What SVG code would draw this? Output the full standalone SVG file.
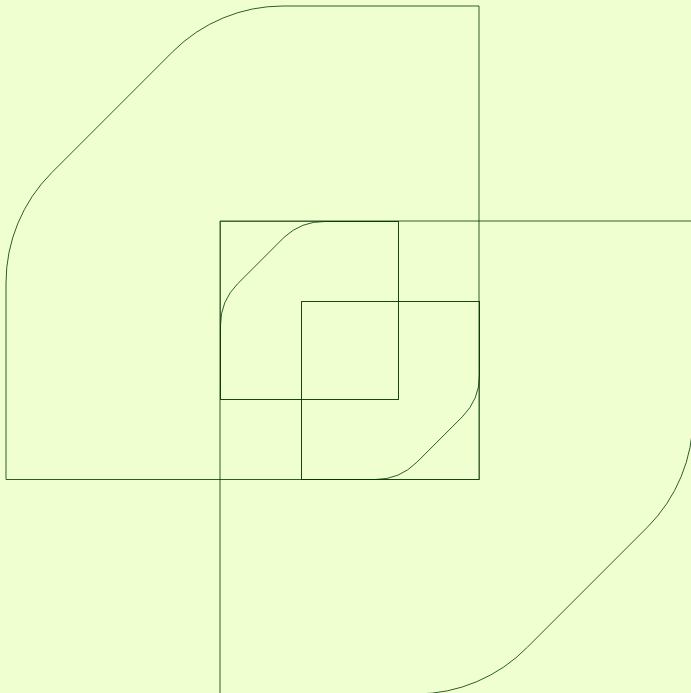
<svg xmlns="http://www.w3.org/2000/svg" width="691" height="693" viewBox="0 0 691 693">
<style>
.s{fill:none;stroke:#003300;stroke-width:1;stroke-opacity:0.8}
.q{fill:none;stroke:#003300;stroke-width:1;stroke-opacity:0.55}
</style>
<rect width="691" height="693" fill="#f0ffd0"/>
<g id="big-shape"><path class="s" d="M6 479.5 L479 479.5 L479 6 L283 6 A156 156 0 0 0 172.7 51.7 L51.7 172.7 A156 156 0 0 0 6 283 Z"/></g>
<g id="lower-shape"><path class="s" d="M220 694 L220 221 L693 221 L693 417 A156 156 0 0 1 647.3 527.3 L527.3 647.3 A156 156 0 0 1 417 694 Z"/></g>
<g id="square-a"><rect class="q" x="220.5" y="221.5" width="178" height="178"/></g>
<g id="shape-a"><path class="s" d="M220.5 399.5 L220.5 325.2 A58.7 58.7 0 0 1 237.7 283.7 L284.2 237.2 A58.7 58.7 0 0 1 324.7 221.5 L398.5 221.5 L398.5 399.5 Z"/></g>
<g id="square-b"><rect class="q" x="301.5" y="301.5" width="178" height="178"/></g>
<g id="shape-b"><path class="s" d="M301.5 301.5 L479.5 301.5 L479.5 375.3 A58.7 58.7 0 0 1 462.3 416.8 L416.8 462.3 A58.7 58.7 0 0 1 375.3 479.5 L301.5 479.5 Z"/></g>
</svg>
